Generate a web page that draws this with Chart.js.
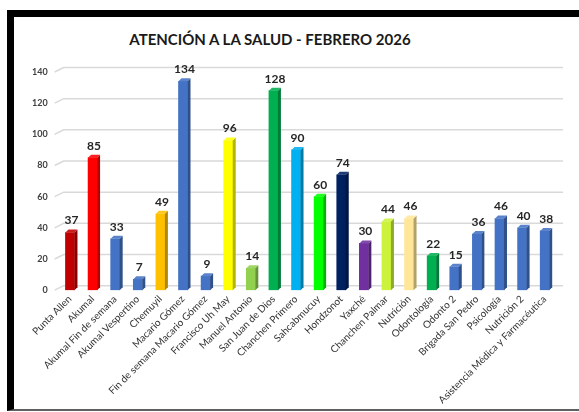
<!DOCTYPE html>
<html>
<head>
<meta charset="utf-8">
<script src="https://cdn.jsdelivr.net/npm/chart.js@4/dist/chart.umd.min.js"></script>
<style>
  html,body{margin:0;padding:0;background:#fff;}
  body{width:579px;height:412px;position:relative;overflow:hidden;}
  #frame{position:absolute;left:7px;top:10px;width:600px;height:392px;border-left:7px solid #000;border-top:7px solid #000;border-bottom:2px solid #606060;}
  #title{position:absolute;left:0;width:540px;top:30px;text-align:center;font-family:Lato,"Open Sans",sans-serif;font-weight:bold;font-size:15px;color:#1a1a1a;}
  #wrap{position:absolute;left:0;top:0;width:579px;height:412px;}
</style>
</head>
<body>
<div id="frame"></div>
<div id="title">ATENCIÓN A LA SALUD - FEBRERO 2026</div>
<div id="wrap"><canvas id="c" width="579" height="412"></canvas></div>
<script>
const categories = ["Punta Allen","Akumal","Akumal Fin de semana","Akumal Vespertino","Chemuyil","Macario Gómez","Fin de semana Macario Gómez","Francisco Uh May","Manuel Antonio","San Juan de Dios","Chanchen Primero","Sahcabmucuy","Hondzonot","Yaxché","Chanchen Palmar","Nutrición","Odontología","Odonto 2","Brigada San Pedro","Psicología","Nutrición 2","Asistencia Médica y Farmacéutica"];
const values = [37,85,33,7,49,134,9,96,14,128,90,60,74,30,44,46,22,15,36,46,40,38];
const barColors = ["#C00000","#FF0000","#4472C4","#4472C4","#FFC000","#4472C4","#4472C4","#FFFF00","#92D050","#00B050","#00B0F0","#00FF00","#002060","#7030A0","#CCF23C","#FFE699","#00B050","#4472C4","#4472C4","#4472C4","#4472C4","#4472C4"];
const yTicks = [0,20,40,60,80,100,120,140];

function shade(hex, f){
  const n = parseInt(hex.slice(1),16);
  let r=(n>>16)&255, g=(n>>8)&255, b=n&255;
  if(f<0){ r=r*(1+f); g=g*(1+f); b=b*(1+f); }
  else { r=r+(255-r)*f; g=g+(255-g)*f; b=b+(255-b)*f; }
  return `rgb(${Math.round(r)},${Math.round(g)},${Math.round(b)})`;
}

const DX = 3, DY = 3;
const bar3d = {
  id:'bar3d',
  beforeDatasetsDraw(chart){
    const ctx = chart.ctx, ys = chart.scales.y, area = chart.chartArea;
    ctx.save();
    ctx.strokeStyle = '#D9D9D9';
    ctx.lineWidth = 1.5;
    yTicks.forEach(v=>{
      const y = ys.getPixelForValue(v);
      ctx.beginPath();
      ctx.moveTo(area.left-4, y);
      ctx.lineTo(area.left+5, y-4.5);
      ctx.lineTo(area.right+7, y-4.5);
      ctx.stroke();
    });
    ctx.restore();
  },
  afterDatasetsDraw(chart){
    const ctx = chart.ctx;
    const meta = chart.getDatasetMeta(0);
    ctx.save();
    meta.data.forEach((bar,i)=>{
      const p = bar.getProps(['x','y','base','width'], true);
      const l = p.x - p.width/2, r = p.x + p.width/2;
      const col = barColors[i];
      ctx.fillStyle = shade(col,-0.3);
      ctx.beginPath();
      ctx.moveTo(r,p.y); ctx.lineTo(r+DX,p.y-DY); ctx.lineTo(r+DX,p.base-DY); ctx.lineTo(r,p.base); ctx.closePath(); ctx.fill();
      ctx.fillStyle = shade(col,0.12);
      ctx.beginPath();
      ctx.moveTo(l,p.y); ctx.lineTo(l+DX,p.y-DY); ctx.lineTo(r+DX,p.y-DY); ctx.lineTo(r,p.y); ctx.closePath(); ctx.fill();
      ctx.fillStyle = '#262626';
      ctx.font = 'bold 12px Lato, "Open Sans", sans-serif';
      ctx.textAlign = 'center';
      ctx.textBaseline = 'bottom';
      ctx.fillText(String(values[i]), p.x + DX/2, p.y - DY - 3);
    });
    ctx.restore();
  }
};

new Chart(document.getElementById('c'), {
  type:'bar',
  data:{
    labels: categories,
    datasets:[{
      data: values,
      backgroundColor: barColors,
      borderWidth: 0,
      barThickness: 9
    }]
  },
  options:{
    responsive:false,
    animation:false,
    layout:{padding:{left:21,right:23,top:72,bottom:3}},
    plugins:{legend:{display:false},tooltip:{enabled:false},title:{display:false}},
    scales:{
      x:{
        grid:{display:false, drawTicks:false},
        border:{display:false},
        ticks:{
          autoSkip:false, maxRotation:45, minRotation:45,
          color:'#333333', padding:3,
          font:{family:'Lato, "Open Sans", sans-serif', size:10}
        }
      },
      y:{
        min:0, max:140,
        grid:{display:false, drawTicks:false},
        border:{display:false},
        ticks:{
          stepSize:20, padding:11, color:'#404040',
          font:{family:'Lato, "Open Sans", sans-serif', size:9, weight:'bold'}
        }
      }
    }
  },
  plugins:[bar3d]
});
</script>
</body>
</html>
